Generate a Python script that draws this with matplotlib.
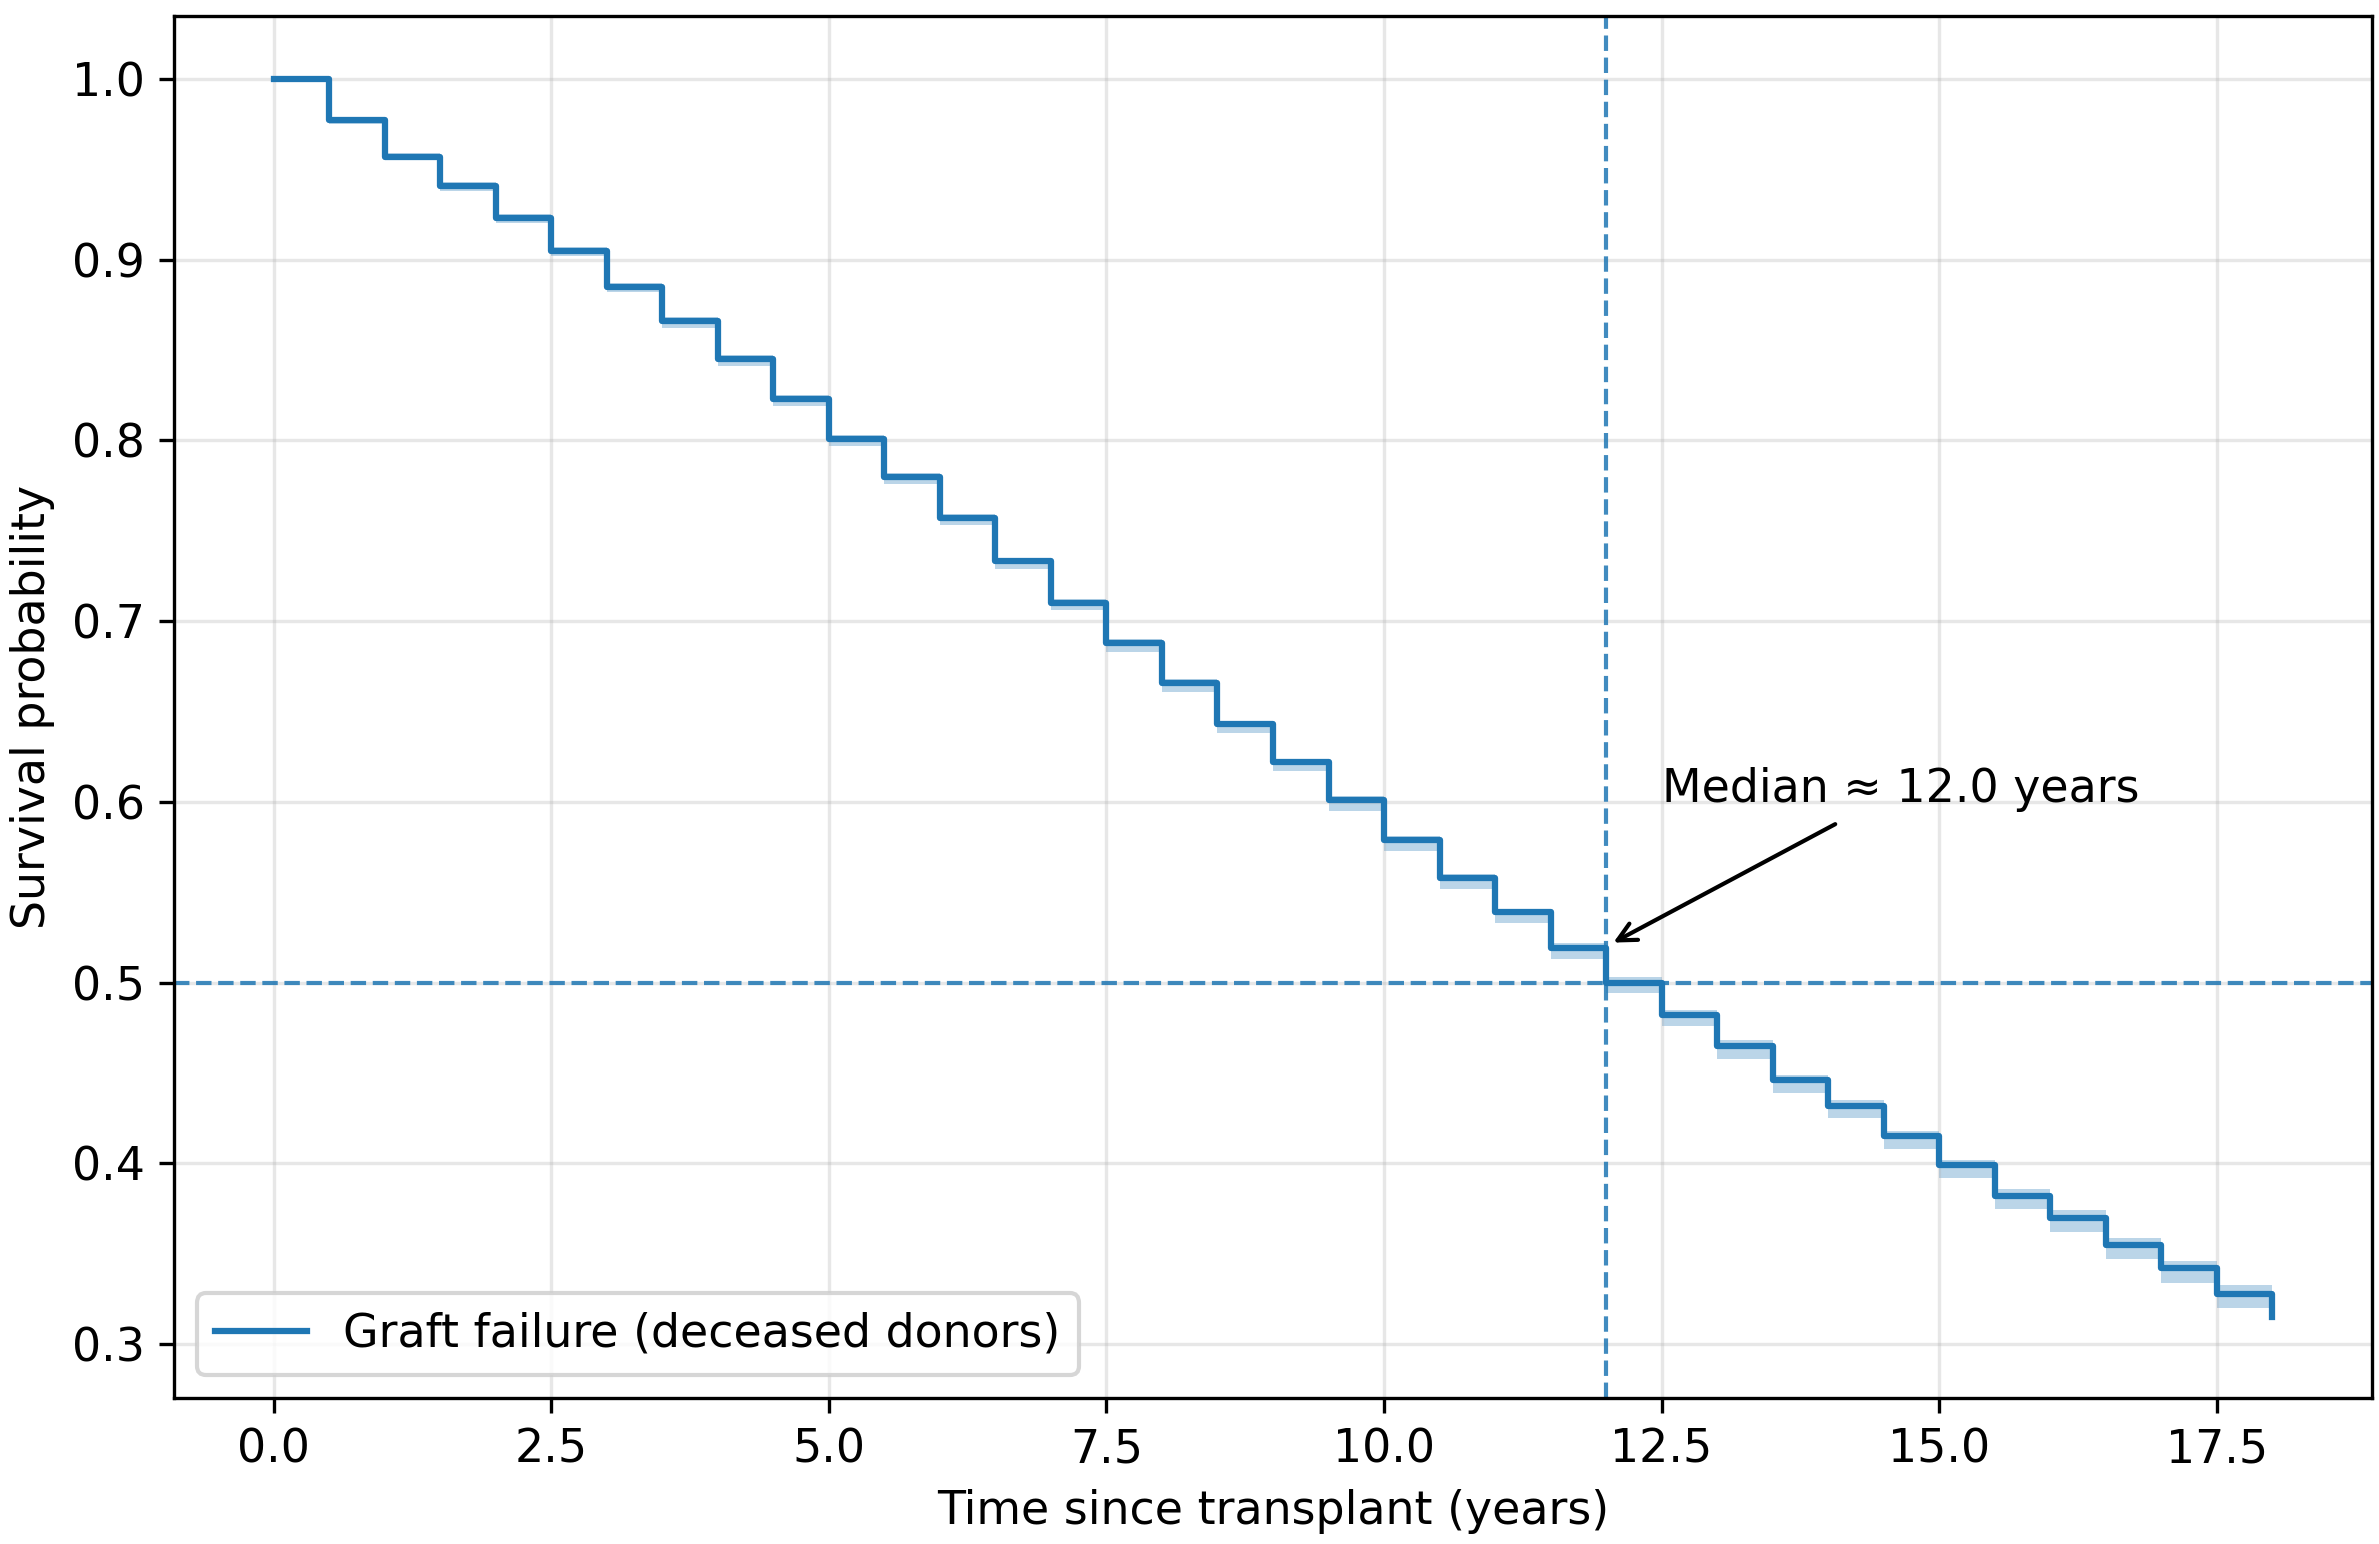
import matplotlib
matplotlib.use("Agg")
import matplotlib.pyplot as plt

# step times (years) and Kaplan-Meier estimate
times = [0.0, 0.5, 1.0, 1.5, 2.0, 2.5, 3.0, 3.5, 4.0, 4.5, 5.0, 5.5, 6.0, 6.5,
         7.0, 7.5, 8.0, 8.5, 9.0, 9.5, 10.0, 10.5, 11.0, 11.5, 12.0, 12.5,
         13.0, 13.5, 14.0, 14.5, 15.0, 15.5, 16.0, 16.5, 17.0, 17.5, 18.0]
survival = [1.000, 0.977, 0.957, 0.941, 0.923, 0.905, 0.885, 0.866, 0.845,
            0.823, 0.801, 0.780, 0.757, 0.733, 0.710, 0.688, 0.666, 0.643,
            0.622, 0.601, 0.579, 0.558, 0.539, 0.519, 0.500, 0.482, 0.465,
            0.446, 0.432, 0.415, 0.399, 0.382, 0.370, 0.355, 0.342, 0.328,
            0.315]
ci_lower = [1.000, 0.975, 0.955, 0.938, 0.920, 0.902, 0.882, 0.862, 0.841,
            0.819, 0.797, 0.776, 0.753, 0.729, 0.706, 0.683, 0.661, 0.638,
            0.617, 0.595, 0.573, 0.552, 0.533, 0.513, 0.494, 0.476, 0.458,
            0.439, 0.425, 0.408, 0.392, 0.375, 0.362, 0.347, 0.334, 0.320,
            0.305]
ci_upper = [1.000, 0.979, 0.959, 0.943, 0.925, 0.907, 0.887, 0.868, 0.847,
            0.825, 0.803, 0.782, 0.759, 0.735, 0.712, 0.690, 0.668, 0.645,
            0.624, 0.603, 0.581, 0.560, 0.541, 0.522, 0.503, 0.485, 0.468,
            0.449, 0.435, 0.418, 0.402, 0.386, 0.374, 0.359, 0.346, 0.333,
            0.321]

median_time = 12.0
label = "Graft failure (deceased donors)"

plt.rcParams["font.size"] = 11

fig, ax = plt.subplots(figsize=(2379 / 300, 1544 / 300), dpi=300)
fig.subplots_adjust(left=0.0731, right=0.9971, top=0.9896, bottom=0.0946)

ax.fill_between(times, ci_lower, ci_upper, step="post", color="C0",
                alpha=0.3, linewidth=0)
ax.step(times, survival, where="post", color="C0", linewidth=1.5, label=label)

# median lines
ax.axhline(0.5, color="C0", linestyle="--", linewidth=1, alpha=0.85)
ax.axvline(median_time, color="C0", linestyle="--", linewidth=1, alpha=0.85)

ax.annotate(f"Median \u2248 {median_time:.1f} years",
            xy=(median_time, 0.52), xytext=(median_time + 0.5, 0.6),
            arrowprops=dict(arrowstyle="->", color="black", lw=1))

ax.set_xlabel("Time since transplant (years)")
ax.set_ylabel("Survival probability")
ax.grid(True, alpha=0.3)
ax.legend(loc="lower left")

plt.savefig("out.png", dpi=300)
